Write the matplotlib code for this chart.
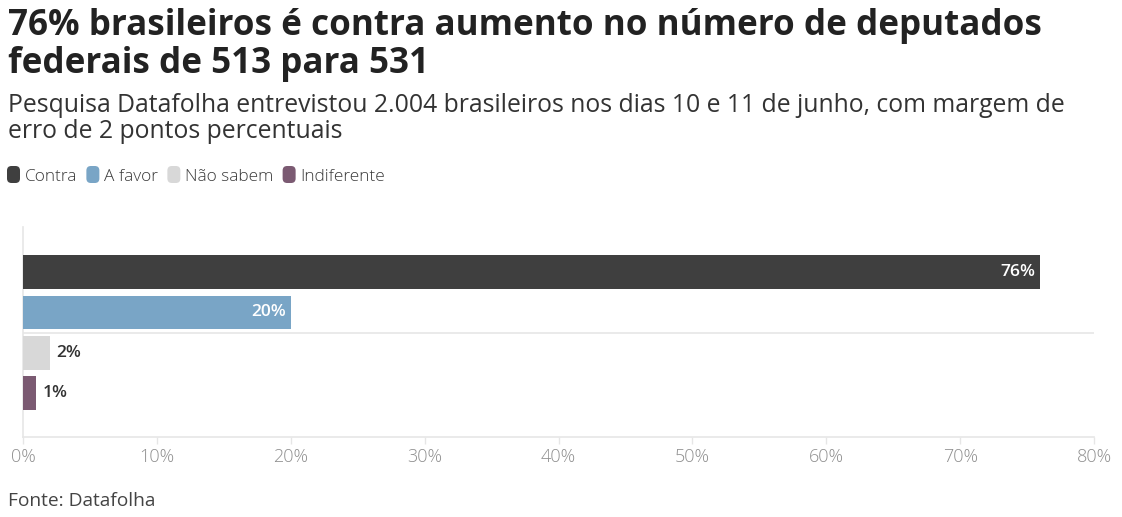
import matplotlib
matplotlib.use("Agg")
import matplotlib.pyplot as plt
from matplotlib.patches import FancyBboxPatch
from matplotlib.ticker import FuncFormatter

plt.rcParams['font.family'] = ['Open Sans', 'DejaVu Sans']

# data
categories = ["Contra", "A favor", "Não sabem", "Indiferente"]
values = [76, 20, 2, 1]
bar_colors = ["#3f3f3f", "#79a5c6", "#d8d8d8", "#7b5a72"]
label_colors = ["white", "white", "#333333", "#333333"]
xticks = [0, 10, 20, 30, 40, 50, 60, 70, 80]

title_lines = ["76% brasileiros é contra aumento no número de deputados",
               "federais de 513 para 531"]
subtitle_lines = ["Pesquisa Datafolha entrevistou 2.004 brasileiros nos dias 10 e 11 de junho, com margem de",
                  "erro de 2 pontos percentuais"]
source = "Fonte: Datafolha"

W, H = 1122, 517
fig = plt.figure(figsize=(W / 100, H / 100), dpi=100)


def fx(x):
    return x / W


def fy(y):
    return 1 - y / H


ax = fig.add_axes([fx(23), fy(437), fx(1094) - fx(23), (437 - 227) / H])

ypos = list(range(len(categories)))
ax.barh(ypos, values, height=0.84, color=bar_colors, zorder=3)
for y, v, c in zip(ypos, values, label_colors):
    if c == "white":
        ax.text(v - 0.35, y, f"{v}%", ha="right", va="center", color=c,
                fontsize=12.5, fontweight="semibold", zorder=4)
    else:
        ax.text(v + 0.45, y, f"{v}%", ha="left", va="center", color=c,
                fontsize=12.5, fontweight="semibold", zorder=4)

ax.axhline(1.5, color="#e6e6e6", lw=1.2, zorder=1)
ax.set_xlim(0, 80)
ax.set_ylim(3 + 1.09, -1.12)
ax.set_xticks(xticks)
ax.xaxis.set_major_formatter(FuncFormatter(lambda v, p: f"{v:.0f}%"))
ax.set_yticks([])
ax.tick_params(axis="x", colors="#e6e6e6", labelcolor="#8f8f8f", labelsize=13,
               length=5, width=1, pad=3)
for lab in ax.get_xticklabels():
    lab.set_fontweight("light")
for s in ["top", "right"]:
    ax.spines[s].set_visible(False)
for s in ["left", "bottom"]:
    ax.spines[s].set_color("#e6e6e6")
    ax.spines[s].set_linewidth(1.2)

# titles
for i, line in enumerate(title_lines):
    fig.text(fx(8), fy(35 + 38 * i), line, ha="left", va="baseline",
             fontsize=25.2, fontweight="bold", color="#222222")
for i, line in enumerate(subtitle_lines):
    fig.text(fx(8), fy(112 + 26 * i), line, ha="left", va="baseline",
             fontsize=17.8, color="#333333")
fig.text(fx(8), fy(506), source, ha="left", va="baseline", fontsize=13.8,
         color="#444444")

# legend
fig.canvas.draw()
renderer = fig.canvas.get_renderer()
x = 7
for name, col in zip(categories, bar_colors):
    box = FancyBboxPatch((fx(x), fy(183)), fx(13), 17 / H,
                         boxstyle="round,pad=0,rounding_size=0.004",
                         transform=fig.transFigure, facecolor=col,
                         edgecolor="none", mutation_aspect=W / H)
    fig.patches.append(box)
    t = fig.text(fx(x + 18), fy(181), name, ha="left", va="baseline",
                 fontsize=12.4, fontweight="light", color="#3a3a3a")
    bb = t.get_window_extent(renderer)
    x = bb.x1 + 9

fig.savefig("out.png", dpi=100)
